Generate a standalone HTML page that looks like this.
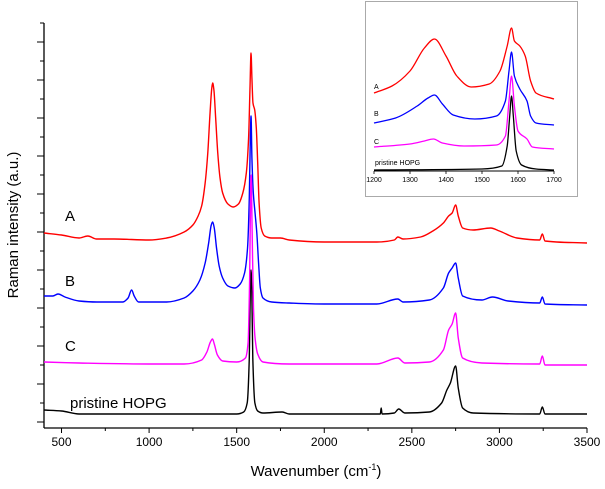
<!DOCTYPE html>
<html><head><meta charset="utf-8"><style>
body{margin:0;background:#fff;}
svg{display:block;font-family:"Liberation Sans",Arial,sans-serif;}
</style></head><body>
<svg id="chart" width="605" height="489" viewBox="0 0 605 489"></svg>
<script>
// ---- main chart data (wavenumber, intensity a.u.) ----
const xTicks = [500,1000,1500,2000,2500,3000,3500];
const seriesNames = ["A","B","C","pristine HOPG"];
const seriesColors = ["#ff0000","#0000ff","#ff00ff","#000000"];
const waveA = [400,500,600,650,700,800,1000,1100,1200,1250,1280,1300,1320,1335,1348,1358,1363,1370,1380,1392,1405,1420,1450,1480,1510,1535,1555,1568,1576,1582,1587,1593,1603,1612,1620,1628,1640,1660,1700,1750,1800,2000,2300,2400,2420,2450,2550,2620,2680,2710,2730,2750,2765,2790,2850,2950,3000,3100,3230,3245,3260,3500];
const intA = [195,193,190,192,189,189,188,190,196,203,212,222,245,275,315,340,345,338,310,275,250,235,224,221,224,235,255,290,340,375,350,325,318,300,265,225,200,192,190,190,188,186,186,188,191,189,191,197,205,212,215,223,212,200,198,200,197,190,188,194,187,185];
const waveB = [400,450,480,520,600,700,850,880,900,915,940,1100,1200,1250,1290,1320,1340,1355,1363,1372,1385,1400,1420,1450,1490,1520,1545,1562,1572,1578,1582,1587,1595,1605,1615,1625,1635,1650,1700,1800,2000,2300,2420,2450,2600,2680,2710,2730,2750,2765,2790,2900,2960,3050,3230,3245,3260,3500];
const intB = [132,132,134,131,127,126,126,130,138,132,126,126,130,137,148,165,185,203,206,200,180,162,150,142,140,144,155,180,230,290,312,270,235,215,195,165,140,130,126,125,124,124,129,126,128,140,155,160,165,150,132,128,131,127,125,131,124,123];
const waveC = [400,600,1000,1200,1300,1330,1350,1362,1372,1390,1420,1500,1550,1565,1574,1580,1583,1588,1596,1605,1620,1650,1800,2300,2420,2460,2600,2680,2710,2730,2750,2765,2790,2900,3230,3245,3260,3500];
const intC = [66,65,64,64,68,76,86,89,84,73,67,66,70,85,150,240,253,200,120,90,74,66,64,64,70,65,66,78,98,104,115,90,70,65,64,72,63,63];
const waveH = [400,500,600,1000,1500,1540,1560,1572,1578,1582,1586,1592,1604,1620,1650,1760,1800,2320,2325,2330,2400,2425,2460,2600,2670,2700,2720,2750,2765,2790,2850,3230,3245,3260,3500];
const intH = [18,17,14,14,14,16,25,70,140,158,140,70,25,17,15,16,14,14,20,14,15,19,15,16,25,38,45,62,40,20,15,14,21,14,14];
// ---- inset data ----
const insetTicks = [1200,1300,1400,1500,1600,1700];
const insWaveA = [1200,1250,1300,1340,1368,1400,1430,1470,1520,1550,1570,1582,1590,1605,1620,1635,1650,1700];
const insIntA = [78,85,100,123,132,115,95,84,87,100,125,143,130,125,115,90,78,72];
const insWaveB = [1200,1260,1320,1350,1368,1390,1420,1480,1540,1565,1575,1582,1590,1605,1625,1635,1650,1700];
const insIntB = [48,53,65,73,76,67,56,52,55,70,100,119,95,82,70,55,48,46];
const insWaveC = [1200,1300,1340,1365,1390,1450,1540,1565,1575,1582,1590,1600,1625,1640,1700];
const insIntC = [24,27,30,32,28,25,26,35,70,95,65,40,32,24,22];
const insWaveH = [1200,1500,1555,1570,1577,1582,1587,1595,1610,1650,1700];
const insIntH = [1,2,5,25,55,75,55,20,6,2,1];

const NS="http://www.w3.org/2000/svg";
const svg=document.getElementById('chart');
function mk(tag,attrs,parent){const e=document.createElementNS(NS,tag);for(const k in attrs)e.setAttribute(k,attrs[k]);(parent||svg).appendChild(e);return e;}
// monotone cubic path through points
function monoPath(px,py){
  const n=px.length;const d=[],m=[];
  for(let i=0;i<n-1;i++)d.push((py[i+1]-py[i])/(px[i+1]-px[i]));
  m[0]=d[0];m[n-1]=d[n-2];
  for(let i=1;i<n-1;i++){ if(d[i-1]*d[i]<=0)m[i]=0; else {const h0=px[i]-px[i-1],h1=px[i+1]-px[i];const w1=2*h1+h0,w2=h1+2*h0;m[i]=(w1+w2)/(w1/d[i-1]+w2/d[i]);}}
  let s='M'+px[0].toFixed(2)+','+py[0].toFixed(2);
  for(let i=0;i<n-1;i++){const h=(px[i+1]-px[i])/3;
    s+=' C'+(px[i]+h).toFixed(2)+','+(py[i]+m[i]*h).toFixed(2)+' '+(px[i+1]-h).toFixed(2)+','+(py[i+1]-m[i+1]*h).toFixed(2)+' '+px[i+1].toFixed(2)+','+py[i+1].toFixed(2);}
  return s;
}
// main axes
const X0=44,X1=587,Y0=428,Y1=23;
const xs=v=>X0+(v-400)/(3100)*(X1-X0);
const ys=v=>Y0-v;
const axes=mk('g',{});


mk('line',{x1:X0,y1:Y0,x2:X1,y2:Y0,stroke:'#000','stroke-width':1.3},axes);
mk('line',{x1:X0,y1:Y0,x2:X0,y2:Y1,stroke:'#000','stroke-width':1.3},axes);
for(let v=500;v<=3500;v+=250){const maj=v%500===0;mk('line',{x1:xs(v),y1:Y0,x2:xs(v),y2:Y0+(maj?5:3),stroke:'#000','stroke-width':1},axes);}
xTicks.forEach(v=>{const t=mk('text',{x:xs(v),y:446,'font-size':12,'text-anchor':'middle',fill:'#000'},axes);t.textContent=v;

});
for(let i=0;i<=21;i++){const y=Y0-6-i*19;if(y<Y1-1)break;mk('line',{x1:X0,y1:y,x2:X0-(i%2===0?7:4),y2:y,stroke:'#000','stroke-width':1},axes);}
const xt=mk('text',{x:316,y:476,'font-size':15,'text-anchor':'middle'});


xt.innerHTML='Wavenumber (cm<tspan dy="-6" font-size="9">-1</tspan><tspan dy="6">)</tspan>';
const yt=mk('text',{x:0,y:0,'font-size':15,'text-anchor':'middle',transform:'translate(18,225) rotate(-90)'});


yt.textContent='Raman intensity (a.u.)';
function line(wv,iv,fx,fy,color,w,name){
  const p=mk('path',{d:monoPath(wv.map(fx),iv.map(fy)),fill:'none',stroke:color,'stroke-width':w,'stroke-linejoin':'round'});
  
  
}
line(waveA,intA,xs,ys,seriesColors[0],1.4,'series-a-line');
line(waveB,intB,xs,ys,seriesColors[1],1.4,'series-b-line');
line(waveH,intH,xs,ys,seriesColors[3],1.4,'series-hopg-line');
line(waveC,intC,xs,ys,seriesColors[2],1.4,'series-c-line');
const labPos=[[65,221],[65,286],[65,351],[70,408]];
seriesNames.forEach((n,i)=>{const t=mk('text',{x:labPos[i][0],y:labPos[i][1],'font-size':15,fill:'#000'});t.textContent=n;

});
// inset
const ins=mk('g',{});


mk('rect',{x:365.5,y:1.5,width:212,height:195,fill:'#fff',stroke:'#aaa','stroke-width':1},ins);
const IX0=374,IX1=554,IY0=171;
const ixs=v=>IX0+(v-1200)/500*(IX1-IX0);
const iys=v=>IY0-v;
mk('line',{x1:IX0,y1:IY0,x2:IX1,y2:IY0,stroke:'#000','stroke-width':1},ins);
insetTicks.forEach(v=>{mk('line',{x1:ixs(v),y1:IY0,x2:ixs(v),y2:IY0+3,stroke:'#000','stroke-width':0.8},ins);
const t=mk('text',{x:ixs(v),y:182,'font-size':7,'text-anchor':'middle'},ins);t.textContent=v;

});
line(insWaveA,insIntA,ixs,iys,seriesColors[0],1.3,'inset-series-a');
line(insWaveB,insIntB,ixs,iys,seriesColors[1],1.3,'inset-series-b');
line(insWaveC,insIntC,ixs,iys,seriesColors[2],1.3,'inset-series-c');
line(insWaveH,insIntH,ixs,iys,seriesColors[3],1.3,'inset-series-hopg');
const insLab=[[374,89],[374,116],[374,144],[375,165]];
seriesNames.forEach((n,i)=>{const t=mk('text',{x:insLab[i][0],y:insLab[i][1],'font-size':7,fill:'#000'});t.textContent=n;

});
</script>
</body></html>
